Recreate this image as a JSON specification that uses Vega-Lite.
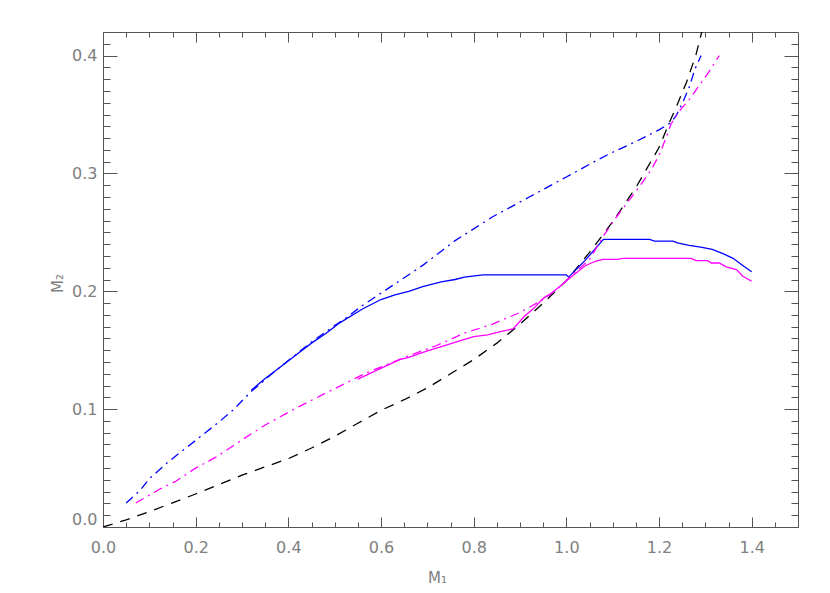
{
  "$schema": "https://vega.github.io/schema/vega-lite/v6.json",
  "width": 695,
  "height": 495,
  "autosize": "none",
  "padding": {"left": 103, "top": 32, "right": 32, "bottom": 66},
  "background": "white",
  "config": {
    "view": {"stroke": null},
    "axis": {"domainColor": "#555555", "tickColor": "#555555", "labelColor": "#808080", "labelFont": "DejaVu Sans", "labelFontWeight": "normal", "labelFontSize": 16, "grid": false, "domainWidth": 1, "tickWidth": 1, "labelOverlap": false, "titleFont": "DejaVu Sans", "titleFontWeight": "normal", "titleColor": "#808080"}
  },
  "datasets": {
    "k": [{"x":0,"y":0},{"x":0.05,"y":0.006},{"x":0.1,"y":0.013},{"x":0.15,"y":0.0205},{"x":0.2,"y":0.028},{"x":0.25,"y":0.036},{"x":0.3,"y":0.044},{"x":0.35,"y":0.051},{"x":0.4,"y":0.058},{"x":0.45,"y":0.067},{"x":0.5,"y":0.077},{"x":0.55,"y":0.088},{"x":0.6,"y":0.099},{"x":0.65,"y":0.108},{"x":0.7,"y":0.118},{"x":0.75,"y":0.13},{"x":0.8,"y":0.142},{"x":0.85,"y":0.156},{"x":0.9,"y":0.172},{"x":0.95,"y":0.19},{"x":1.0,"y":0.209},{"x":1.05,"y":0.233},{"x":1.1,"y":0.259},{"x":1.15,"y":0.288},{"x":1.2,"y":0.322},{"x":1.22,"y":0.341},{"x":1.24,"y":0.359},{"x":1.26,"y":0.378},{"x":1.28,"y":0.401},{"x":1.3,"y":0.432}],
    "bs": [{"x":0.32,"y":0.116},{"x":0.35,"y":0.126},{"x":0.38,"y":0.135},{"x":0.42,"y":0.147},{"x":0.45,"y":0.156},{"x":0.48,"y":0.164},{"x":0.5,"y":0.17},{"x":0.51,"y":0.173},{"x":0.56,"y":0.185},{"x":0.6,"y":0.193},{"x":0.63,"y":0.197},{"x":0.66,"y":0.2},{"x":0.69,"y":0.204},{"x":0.73,"y":0.208},{"x":0.76,"y":0.21},{"x":0.78,"y":0.212},{"x":0.82,"y":0.214},{"x":1.0,"y":0.214},{"x":1.005,"y":0.212},{"x":1.04,"y":0.226},{"x":1.08,"y":0.244},{"x":1.18,"y":0.244},{"x":1.19,"y":0.2425},{"x":1.23,"y":0.2425},{"x":1.24,"y":0.241},{"x":1.265,"y":0.239},{"x":1.29,"y":0.2375},{"x":1.315,"y":0.2355},{"x":1.338,"y":0.232},{"x":1.36,"y":0.228},{"x":1.377,"y":0.223},{"x":1.4,"y":0.2165}],
    "bd": [{"x":0.05,"y":0.0204},{"x":0.08,"y":0.031},{"x":0.1,"y":0.041},{"x":0.14,"y":0.055},{"x":0.2,"y":0.0735},{"x":0.25,"y":0.089},{"x":0.28,"y":0.099},{"x":0.32,"y":0.115},{"x":0.38,"y":0.135},{"x":0.45,"y":0.157},{"x":0.5,"y":0.171},{"x":0.52,"y":0.176},{"x":0.56,"y":0.188},{"x":0.61,"y":0.201},{"x":0.69,"y":0.222},{"x":0.76,"y":0.243},{"x":0.84,"y":0.263},{"x":0.92,"y":0.28},{"x":1.0,"y":0.297},{"x":1.07,"y":0.312},{"x":1.1,"y":0.318},{"x":1.15,"y":0.327},{"x":1.2,"y":0.337},{"x":1.225,"y":0.343},{"x":1.237,"y":0.349},{"x":1.251,"y":0.36},{"x":1.266,"y":0.374},{"x":1.277,"y":0.388},{"x":1.291,"y":0.4}],
    "ms": [{"x":0.55,"y":0.1255},{"x":0.58,"y":0.131},{"x":0.618,"y":0.138},{"x":0.64,"y":0.142},{"x":0.66,"y":0.144},{"x":0.7,"y":0.1495},{"x":0.73,"y":0.153},{"x":0.77,"y":0.158},{"x":0.8,"y":0.1615},{"x":0.83,"y":0.163},{"x":0.86,"y":0.166},{"x":0.885,"y":0.168},{"x":0.91,"y":0.179},{"x":0.93,"y":0.1855},{"x":0.95,"y":0.194},{"x":0.97,"y":0.199},{"x":1.007,"y":0.211},{"x":1.04,"y":0.2215},{"x":1.054,"y":0.224},{"x":1.064,"y":0.2255},{"x":1.079,"y":0.227},{"x":1.111,"y":0.227},{"x":1.122,"y":0.228},{"x":1.269,"y":0.228},{"x":1.28,"y":0.226},{"x":1.305,"y":0.226},{"x":1.313,"y":0.224},{"x":1.33,"y":0.224},{"x":1.345,"y":0.2207},{"x":1.367,"y":0.2184},{"x":1.381,"y":0.2127},{"x":1.4,"y":0.2085}],
    "md": [{"x":0.0707,"y":0.0204},{"x":0.1,"y":0.027},{"x":0.122,"y":0.032},{"x":0.158,"y":0.039},{"x":0.2,"y":0.05},{"x":0.245,"y":0.0595},{"x":0.3,"y":0.074},{"x":0.352,"y":0.087},{"x":0.424,"y":0.1024},{"x":0.496,"y":0.1166},{"x":0.568,"y":0.1307},{"x":0.618,"y":0.1386},{"x":0.66,"y":0.1453},{"x":0.72,"y":0.154},{"x":0.78,"y":0.1645},{"x":0.84,"y":0.172},{"x":0.9,"y":0.182},{"x":0.95,"y":0.193},{"x":0.99,"y":0.205},{"x":1.007,"y":0.212},{"x":1.05,"y":0.227},{"x":1.08,"y":0.247},{"x":1.108,"y":0.263},{"x":1.137,"y":0.278},{"x":1.16,"y":0.29},{"x":1.183,"y":0.303},{"x":1.201,"y":0.316},{"x":1.216,"y":0.331},{"x":1.226,"y":0.342},{"x":1.244,"y":0.353},{"x":1.266,"y":0.363},{"x":1.284,"y":0.373},{"x":1.309,"y":0.387},{"x":1.33,"y":0.4}]
  },
  "resolve": {"axis": {"x": "independent", "y": "independent"}},
  "layer": [
    {
      "data": {"name": "k"},
      "mark": {"type": "line", "color": "black", "strokeWidth": 1.3, "strokeDash": [10, 8], "clip": true},
      "encoding": {
        "x": {"field": "x", "type": "quantitative", "scale": {"domain": [0, 1.5], "nice": false, "zero": false},
          "axis": {"orient": "bottom", "values": [0, 0.2, 0.4, 0.6, 0.8, 1.0, 1.2, 1.4], "format": ".1f", "tickSize": -10, "labelPadding": 22, "labelFlush": false, "title": "M₁", "titleFontSize": 15, "titleX": 334, "titleY": 55, "titleBaseline": "alphabetic", "titleAlign": "center"}},
        "y": {"field": "y", "type": "quantitative", "scale": {"domain": [0, 0.42], "nice": false, "zero": false},
          "axis": {"orient": "left", "values": [0, 0.1, 0.2, 0.3, 0.4], "format": ".1f", "tickSize": -14, "labelPadding": 20, "labelFlush": true, "title": "M₂", "titleFontSize": 15, "titleX": -46, "titleY": 251, "titleAngle": 270, "titleAlign": "center", "titleBaseline": "middle"}}
      }
    },
    {
      "data": {"name": "bs"},
      "mark": {"type": "line", "color": "#0000ff", "strokeWidth": 1.3},
      "encoding": {
        "x": {"field": "x", "type": "quantitative", "axis": {"orient": "top", "values": [0, 0.2, 0.4, 0.6, 0.8, 1.0, 1.2, 1.4], "tickSize": -10, "labels": false, "title": null}},
        "y": {"field": "y", "type": "quantitative", "axis": {"orient": "right", "values": [0, 0.1, 0.2, 0.3, 0.4], "tickSize": -14, "labels": false, "title": null}}
      }
    },
    {
      "data": {"name": "ms"},
      "mark": {"type": "line", "color": "#ff00ff", "strokeWidth": 1.3},
      "encoding": {
        "x": {"field": "x", "type": "quantitative", "axis": {"orient": "bottom", "values": [0.05,0.1,0.15,0.25,0.3,0.35,0.45,0.5,0.55,0.65,0.7,0.75,0.85,0.9,0.95,1.05,1.1,1.15,1.25,1.3,1.35,1.45], "tickSize": -5, "labels": false, "domain": false, "title": null}},
        "y": {"field": "y", "type": "quantitative", "axis": {"orient": "left", "values": [0.01,0.02,0.03,0.04,0.05,0.06,0.07,0.08,0.09,0.11,0.12,0.13,0.14,0.15,0.16,0.17,0.18,0.19,0.21,0.22,0.23,0.24,0.25,0.26,0.27,0.28,0.29,0.31,0.32,0.33,0.34,0.35,0.36,0.37,0.38,0.39,0.41], "tickSize": -7, "labels": false, "domain": false, "title": null}}
      }
    },
    {
      "data": {"name": "bd"},
      "mark": {"type": "line", "color": "#0000ff", "strokeWidth": 1.3, "strokeDash": [9, 5, 2, 5]},
      "encoding": {
        "x": {"field": "x", "type": "quantitative", "axis": {"orient": "top", "values": [0.05,0.1,0.15,0.25,0.3,0.35,0.45,0.5,0.55,0.65,0.7,0.75,0.85,0.9,0.95,1.05,1.1,1.15,1.25,1.3,1.35,1.45], "tickSize": -5, "labels": false, "domain": false, "title": null}},
        "y": {"field": "y", "type": "quantitative", "axis": {"orient": "right", "values": [0.01,0.02,0.03,0.04,0.05,0.06,0.07,0.08,0.09,0.11,0.12,0.13,0.14,0.15,0.16,0.17,0.18,0.19,0.21,0.22,0.23,0.24,0.25,0.26,0.27,0.28,0.29,0.31,0.32,0.33,0.34,0.35,0.36,0.37,0.38,0.39,0.41], "tickSize": -7, "labels": false, "domain": false, "title": null}}
      }
    },
    {
      "data": {"name": "md"},
      "mark": {"type": "line", "color": "#ff00ff", "strokeWidth": 1.3, "strokeDash": [9, 5, 2, 5]},
      "encoding": {
        "x": {"field": "x", "type": "quantitative", "axis": null},
        "y": {"field": "y", "type": "quantitative", "axis": null}
      }
    }
  ]
}
